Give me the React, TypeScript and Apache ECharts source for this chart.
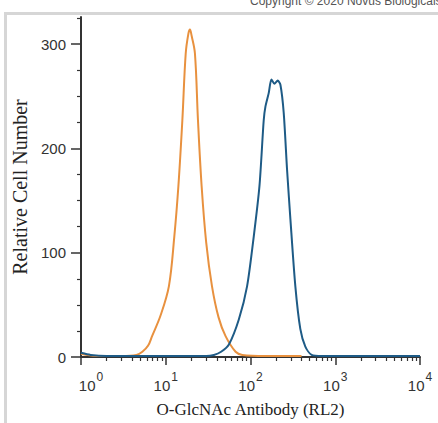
import React, { useEffect, useRef } from "react";
import * as echarts from "echarts";

// Fluorescence intensity (x, log scale) vs relative cell number (y)
const controlX = [1, 1.5, 3, 4.5, 5.3, 6.2, 6.9, 8.7, 10.9, 12.6, 14.1, 15.7, 17.2, 18.5, 19.3, 20.2, 22.1, 24.0, 26.5, 30, 35.1, 42, 50.8, 66.7, 80, 150, 400];
const controlY = [3, 1, 1, 2, 5, 11, 20, 40, 68, 115, 164, 227, 291, 310, 314, 308, 291, 227, 164, 110, 68, 38, 20, 5, 2, 1, 1];

const stainedX = [1, 1.3, 2, 20, 30, 37, 45, 55.6, 72.8, 91.2, 109.4, 127.6, 143.2, 150, 164, 176.6, 191.4, 209.4, 225.4, 246.6, 269.8, 295.8, 338, 387, 443.6, 526, 700, 10000];
const stainedY = [4, 2, 1, 1, 1, 2, 5, 12, 36, 68, 116, 164, 227, 240, 253, 266, 262, 265, 261, 234, 180, 132, 68, 27, 10, 2, 1, 1];

const majorTicks = [1, 10, 100, 1000, 10000];
const minorTicks = [2, 3, 4, 5, 6, 7, 8, 9, 20, 30, 40, 50, 60, 70, 80, 90, 200, 300, 400, 500, 600, 700, 800, 900, 2000, 3000, 4000, 5000, 6000, 7000, 8000, 9000];
const yTicks = [0, 100, 200, 300];

const xTitle = "O-GlcNAc Antibody (RL2)";
const yTitle = "Relative Cell Number";
const copyright = "Copyright © 2020 Novus Biologicals";

export default function App() {
  const ref = useRef<HTMLDivElement>(null);
  useEffect(() => {
    if (!ref.current) return;
    const chart = echarts.init(ref.current, undefined, { renderer: "svg" });
    const sans = "Liberation Sans";
    const serif = "Liberation Serif";
    chart.setOption({
      animation: false,
      backgroundColor: "#ffffff",
      grid: { left: 81, right: 18, top: 17, bottom: 65, containLabel: false },
      graphic: [
        { type: "rect", shape: { x: 4, y: 12, width: 3, height: 420 }, style: { fill: "#d6d6d6" }, z: 100 },
        { type: "rect", shape: { x: 4, y: 12, width: 440, height: 3 }, style: { fill: "#d6d6d6" }, z: 100 },
        { type: "text", x: 250, y: -5, style: { text: copyright, fill: "#555", font: "12px 'Liberation Sans'" }, z: 100 },
      ],
      xAxis: [
        {
          type: "log",
          logBase: 10,
          min: 1,
          max: 10000,
          position: "bottom",
          name: xTitle,
          nameLocation: "middle",
          nameGap: 44,
          nameTextStyle: { fontFamily: serif, fontSize: 17, color: "#222" },
          axisLine: { show: true, onZero: false, lineStyle: { color: "#333", width: 2 } },
          axisTick: { show: true, inside: false, length: 8, customValues: majorTicks, lineStyle: { color: "#333", width: 1.5 } },
          minorTick: { show: false },
          splitLine: { show: false },
          axisLabel: {
            customValues: majorTicks,
            margin: 12,
            formatter: (v: number) => {
              const e = Math.round(Math.log10(v));
              return e === 0 ? `{bf|10}{s|${e}}` : `{b|10}{s|${e}}`;
            },
            rich: {
              b: { fontFamily: sans, fontSize: 15, color: "#333", verticalAlign: "bottom", lineHeight: 24, padding: [0, 1, 0, 0] },
              bf: { fontFamily: sans, fontSize: 15, color: "#333", verticalAlign: "bottom", lineHeight: 24, padding: [0, 1, 0, 20] },
              s: { fontFamily: sans, fontSize: 12, color: "#333", verticalAlign: "top", lineHeight: 24, padding: [2, 0, 6, 0] },
            },
          },
        },
        {
          type: "log",
          logBase: 10,
          min: 1,
          max: 10000,
          position: "bottom",
          axisLine: { show: false },
          axisTick: { show: true, inside: false, length: 4, customValues: minorTicks, lineStyle: { color: "#333", width: 1.2 } },
          axisLabel: { show: false },
          splitLine: { show: false },
        },
      ],
      yAxis: {
        type: "value",
        min: 0,
        max: 326,
        interval: 100,
        name: yTitle,
        nameLocation: "middle",
        nameGap: 50,
        nameTextStyle: { fontFamily: serif, fontSize: 20, color: "#222" },
        axisLine: { show: true, lineStyle: { color: "#333", width: 2 } },
        axisTick: { show: true, inside: false, length: 10, customValues: yTicks, lineStyle: { color: "#333", width: 1.5 } },
        minorTick: { show: true, splitNumber: 4, length: 4, lineStyle: { color: "#333", width: 1.2 } },
        splitLine: { show: false },
        axisLabel: { customValues: yTicks, margin: 15, fontFamily: sans, fontSize: 15, color: "#333" },
      },
      series: [
        {
          type: "line",
          name: "control",
          data: controlX.map((x, i) => [x, controlY[i]]),
          showSymbol: false,
          smooth: 0.35,
          lineStyle: { color: "#E8913F", width: 2 },
          z: 2,
        },
        {
          type: "line",
          name: "O-GlcNAc",
          data: stainedX.map((x, i) => [x, stainedY[i]]),
          showSymbol: false,
          smooth: 0.25,
          lineStyle: { color: "#1E5B86", width: 2 },
          z: 3,
        },
      ],
    });
    return () => chart.dispose();
  }, []);
  return <div ref={ref} style={{ position: "fixed", left: 0, top: 0, width: 438, height: 423 }} />;
}
